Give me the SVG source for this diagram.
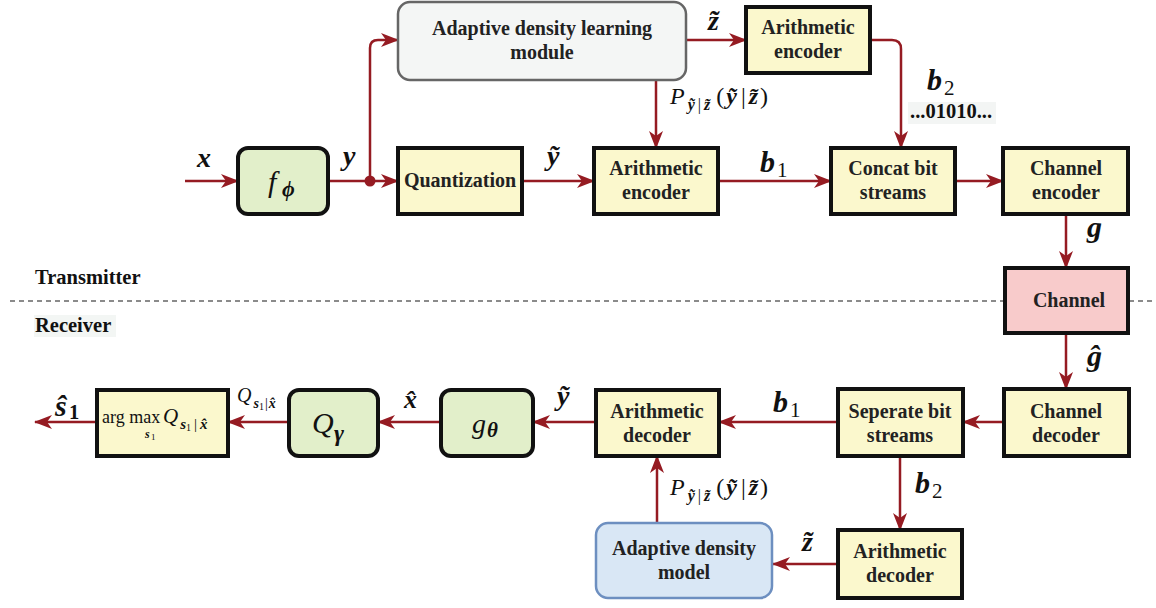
<svg xmlns="http://www.w3.org/2000/svg" width="1156" height="608" viewBox="0 0 1156 608">
<defs>
<style>
.bx{fill:#fbf8cd;stroke:#111;stroke-width:4}
.gr{fill:#e2efca;stroke:#111;stroke-width:4}
text{font-family:'Liberation Serif','Times New Roman','DejaVu Serif',serif}
.t{font-weight:bold;font-size:20px;fill:#222;text-anchor:middle}
.lb{font-weight:bold;font-size:20.5px;fill:#111}
.v{font-weight:bold;font-style:italic;fill:#111}
.m{font-style:italic;fill:#111}
.r{fill:#111}
.c{fill:none;stroke:#951b22;stroke-width:2.5;marker-end:url(#ah)}
</style>
<marker id="ah" viewBox="0 0 18 14" refX="17" refY="7" markerWidth="18" markerHeight="14" markerUnits="userSpaceOnUse" orient="auto"><path d="M0,0 L18,7 L0,14 L5,7 Z" fill="#951b22"/></marker>
</defs>
<rect width="1156" height="608" fill="#fff"/>

<!-- separator -->
<line x1="10" y1="301" x2="1005" y2="301" stroke="#666" stroke-width="1.5" stroke-dasharray="5,4"/>
<line x1="1129" y1="301" x2="1156" y2="301" stroke="#666" stroke-width="1.5" stroke-dasharray="5,4"/>
<text class="lb" x="35" y="284">Transmitter</text>
<rect x="34" y="315" width="82" height="22" fill="#f3f6f4"/>
<text class="lb" x="35" y="332">Receiver</text>

<g id="connectors">
<path class="c" d="M185,181 H238"/>
<path class="c" d="M328,181 H398"/>
<path class="c" d="M370,181 V48 Q370,40 378,40 H398"/>
<circle cx="370" cy="181" r="5.5" fill="#951b22"/>
<path class="c" d="M522,181 H594"/>
<path class="c" d="M686,40 H746"/>
<path class="c" d="M656,80 V148"/>
<path class="c" d="M870,40 H892 Q901,40 901,49 V148"/>
<path class="c" d="M718,181 H831"/>
<path class="c" d="M955,181 H1003"/>
<path class="c" d="M1066,214 V268"/>
<path class="c" d="M1066,333 V389"/>
<path class="c" d="M1004,422 H963"/>
<path class="c" d="M838,422 H719"/>
<path class="c" d="M596,422 H533"/>
<path class="c" d="M441,422 H378"/>
<path class="c" d="M289,422 H228"/>
<path class="c" d="M97,422 H35"/>
<path class="c" d="M900,456 V530"/>
<path class="c" d="M838,564 H773"/>
<path class="c" d="M657,523 V456"/>
</g>

<g id="labels">
<text class="v" x="197" y="167" font-size="28">x</text>
<text class="v" x="343" y="165" font-size="28">y</text>
<text class="v" x="547" y="165" font-size="28">ỹ</text>
<text class="v" x="708" y="30" font-size="28">z̃</text>
<text x="670" y="104"><tspan class="m" font-size="24">P</tspan><tspan class="v" font-size="16" dx="3" dy="6">ỹ</tspan><tspan class="r" font-size="16" dx="3">|</tspan><tspan class="v" font-size="16" dx="3">z̃</tspan><tspan class="r" font-size="24" dx="6" dy="-6">(</tspan><tspan class="v" font-size="24" dx="2">ỹ</tspan><tspan class="r" font-size="24" dx="4">|</tspan><tspan class="v" font-size="24" dx="3">z̃</tspan><tspan class="r" font-size="24" dx="2">)</tspan></text>
<text class="v" x="927" y="90" font-size="30">b</text>
<text class="r" x="944" y="95" font-size="21">2</text>
<rect x="908" y="102" width="88" height="22" fill="#f3f5f4"/>
<text class="lb" x="910" y="118" font-size="19">...01010...</text>
<text class="v" x="760" y="172" font-size="30">b</text>
<text class="r" x="777" y="177" font-size="21">1</text>
<text class="v" x="1087" y="237" font-size="30">g</text>
<text class="v" x="1087" y="366" font-size="30">ĝ</text>
<text class="v" x="773" y="412" font-size="30">b</text>
<text class="r" x="790" y="417" font-size="21">1</text>
<text class="v" x="557" y="405" font-size="28">ỹ</text>
<text class="v" x="404" y="408" font-size="26">x̂</text>
<text x="237" y="402"><tspan class="m" font-size="20">Q</tspan><tspan class="v" font-size="14" dx="2" dy="6">s</tspan><tspan class="r" font-size="10" dy="2">1</tspan><tspan class="r" font-size="14" dx="1" dy="-2">|</tspan><tspan class="v" font-size="14" dx="1">x̂</tspan></text>
<text class="v" x="55" y="416" font-size="30">ŝ</text>
<text class="lb" x="69" y="419" font-size="22">1</text>
<text class="v" x="915" y="493" font-size="30">b</text>
<text class="r" x="932" y="498" font-size="21">2</text>
<text x="670" y="495"><tspan class="m" font-size="24">P</tspan><tspan class="v" font-size="16" dx="3" dy="6">ỹ</tspan><tspan class="r" font-size="16" dx="3">|</tspan><tspan class="v" font-size="16" dx="3">z̃</tspan><tspan class="r" font-size="24" dx="6" dy="-6">(</tspan><tspan class="v" font-size="24" dx="2">ỹ</tspan><tspan class="r" font-size="24" dx="4">|</tspan><tspan class="v" font-size="24" dx="3">z̃</tspan><tspan class="r" font-size="24" dx="2">)</tspan></text>
<text class="v" x="802" y="551" font-size="28">z̃</text>
</g>

<g id="f_phi">
<rect class="gr" x="238" y="148" width="90" height="66" rx="10"/>
<text class="m" x="268" y="192" font-size="30">f</text>
<text class="v" x="282" y="196" font-size="22">ϕ</text>
</g>
<g id="adlm">
<rect x="398" y="2" width="288" height="78" rx="12" fill="#f4f6f5" stroke="#666" stroke-width="2.5"/>
<text class="t" x="542" y="35">Adaptive density learning</text>
<text class="t" x="542" y="59">module</text>
</g>
<g id="quant">
<rect class="bx" x="398" y="148" width="124" height="66"/>
<text class="t" x="460" y="187">Quantization</text>
</g>
<g id="ae_z">
<rect class="bx" x="746" y="7" width="124" height="66"/>
<text class="t" x="808" y="34">Arithmetic</text>
<text class="t" x="808" y="58">encoder</text>
</g>
<g id="ae_y">
<rect class="bx" x="594" y="148" width="124" height="66"/>
<text class="t" x="656" y="175">Arithmetic</text>
<text class="t" x="656" y="199">encoder</text>
</g>
<g id="concat">
<rect class="bx" x="831" y="148" width="124" height="66"/>
<text class="t" x="893" y="175">Concat bit</text>
<text class="t" x="893" y="199">streams</text>
</g>
<g id="chenc">
<rect class="bx" x="1003" y="148" width="125" height="66"/>
<text class="t" x="1066" y="175">Channel</text>
<text class="t" x="1066" y="199">encoder</text>
</g>
<g id="channel">
<rect x="1005" y="268" width="123" height="65" fill="#f8cbcb" stroke="#111" stroke-width="4"/>
<text class="t" x="1069" y="307">Channel</text>
</g>
<g id="chdec">
<rect class="bx" x="1004" y="389" width="125" height="67"/>
<text class="t" x="1066" y="418">Channel</text>
<text class="t" x="1066" y="442">decoder</text>
</g>
<g id="sep">
<rect class="bx" x="838" y="389" width="125" height="67"/>
<text class="t" x="900" y="418">Seperate bit</text>
<text class="t" x="900" y="442">streams</text>
</g>
<g id="ad_y">
<rect class="bx" x="596" y="390" width="123" height="66"/>
<text class="t" x="657" y="418">Arithmetic</text>
<text class="t" x="657" y="442">decoder</text>
</g>
<g id="g_theta">
<rect class="gr" x="441" y="390" width="92" height="66" rx="10"/>
<text class="m" x="472" y="433" font-size="28">g</text>
<text class="v" x="487" y="437" font-size="21">θ</text>
</g>
<g id="q_gamma">
<rect class="gr" x="289" y="390" width="89" height="66" rx="10"/>
<text class="m" x="312" y="433" font-size="30">Q</text>
<text class="v" x="334" y="441" font-size="24">γ</text>
</g>
<g id="argmax">
<rect class="bx" x="97" y="390" width="131" height="66"/>
<text class="r" x="102" y="423" font-size="18">arg max</text>
<text x="163" y="423"><tspan class="m" font-size="21">Q</tspan><tspan class="v" font-size="15" dx="2" dy="6">s</tspan><tspan class="r" font-size="10" dy="2">1</tspan><tspan class="r" font-size="15" dx="3" dy="-2">|</tspan><tspan class="v" font-size="15" dx="3">x̂</tspan></text>
<text class="v" x="145" y="438" font-size="12">s</text>
<text class="r" x="151" y="440" font-size="9">1</text>
</g>
<g id="ad_z">
<rect class="bx" x="838" y="530" width="124" height="68"/>
<text class="t" x="900" y="558">Arithmetic</text>
<text class="t" x="900" y="582">decoder</text>
</g>
<g id="adm">
<rect x="596" y="523" width="176" height="75" rx="12" fill="#d9e7f5" stroke="#6d8fc0" stroke-width="2.5"/>
<text class="t" x="684" y="555">Adaptive density</text>
<text class="t" x="684" y="579">model</text>
</g>
</svg>
